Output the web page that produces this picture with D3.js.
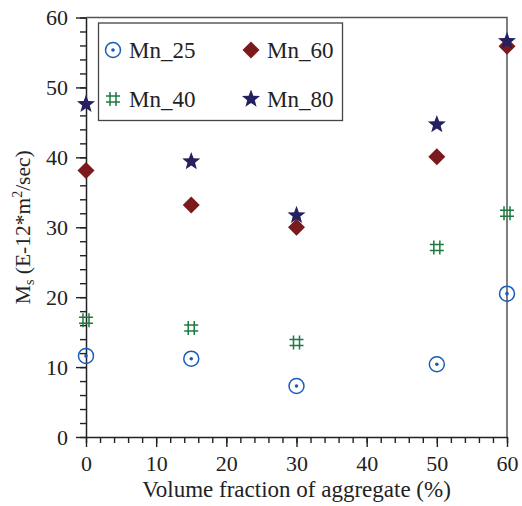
<!DOCTYPE html>
<html>
<head>
<meta charset="utf-8">
<script src="https://cdn.jsdelivr.net/npm/d3@7"></script>
<style>
  body { margin: 0; background: #fff; }
  text { font-family: "Liberation Serif", "Times New Roman", serif; fill: #222; }
</style>
</head>
<body>
<div id="chart"></div>
<script>
var xValues = [0, 15, 30, 50, 60];
var mn25 = [11.6, 11.2, 7.3, 10.4, 20.5];
var mn40 = [16.7, 15.6, 13.5, 27.1, 32.0];
var mn60 = [38.1, 33.2, 30.0, 40.1, 55.9];
var mn80 = [47.6, 39.4, 31.7, 44.7, 56.6];
var xTicks = [0, 10, 20, 30, 40, 50, 60];
var yTicks = [0, 10, 20, 30, 40, 50, 60];

var series = [
  { name: "Mn_25", values: mn25, type: "circle", color: "#1a5cb8" },
  { name: "Mn_40", values: mn40, type: "hash", color: "#1b7a3c" },
  { name: "Mn_60", values: mn60, type: "diamond", color: "#7a1a1c" },
  { name: "Mn_80", values: mn80, type: "star", color: "#25205f" }
];

var width = 522, height = 506;
var margin = { top: 17.5, right: 15, bottom: 69, left: 86 };
var graphWidth = width - margin.left - margin.right;
var graphHeight = height - margin.top - margin.bottom;

var svg = d3.select("#chart").append("svg")
  .attr("width", width)
  .attr("height", height);

var g = svg.append("g")
  .attr("transform", "translate(" + margin.left + "," + margin.top + ")");

var x = d3.scaleLinear().domain([0, 60]).range([0, graphWidth]);
var y = d3.scaleLinear().domain([0, 60]).range([graphHeight, 0]);

// frame (top + right)
g.append("path")
  .attr("d", "M0,0H" + graphWidth + "V" + graphHeight)
  .attr("fill", "none")
  .attr("stroke", "#555")
  .attr("stroke-width", 1.5);

// minor ticks
g.append("g")
  .attr("transform", "translate(0," + graphHeight + ")")
  .call(d3.axisBottom(x).tickValues(d3.range(0, 61, 2)).tickSize(6).tickFormat(""))
  .call(a => a.select(".domain").remove());
g.append("g")
  .call(d3.axisLeft(y).tickValues(d3.range(0, 61, 2)).tickSize(6).tickFormat(""))
  .call(a => a.select(".domain").remove());

// major axes
g.append("g")
  .attr("transform", "translate(0," + graphHeight + ")")
  .call(d3.axisBottom(x).tickValues(xTicks).tickSize(10).tickSizeOuter(0).tickPadding(8));
g.append("g")
  .call(d3.axisLeft(y).tickValues(yTicks).tickSize(10).tickSizeOuter(0).tickPadding(8));

g.selectAll(".tick line").attr("stroke", "#222").attr("stroke-width", 1.4);
g.selectAll(".domain").attr("stroke", "#222").attr("stroke-width", 1.5);
g.selectAll(".tick text")
  .style("font-family", "'Liberation Serif', serif")
  .style("font-size", "22px")
  .attr("fill", "#222");

// axis labels
svg.append("text")
  .attr("x", margin.left + graphWidth / 2)
  .attr("y", 497)
  .attr("text-anchor", "middle")
  .style("font-size", "23px")
  .text("Volume fraction of aggregate (%)");

var yl = svg.append("text")
  .attr("transform", "translate(30," + (margin.top + graphHeight / 2) + ") rotate(-90)")
  .attr("text-anchor", "middle")
  .style("font-size", "21.5px");
yl.append("tspan").text("M");
yl.append("tspan").attr("dy", 4).style("font-size", "14px").text("s");
yl.append("tspan").attr("dy", -4).text(" (E-12*m");
yl.append("tspan").attr("dy", -8).style("font-size", "14px").text("2");
yl.append("tspan").attr("dy", 8).text("/sec)");

// symbols
function drawSymbol(sel, type, color) {
  if (type === "circle") {
    sel.append("circle").attr("r", 7.5).attr("fill", "none").attr("stroke", color).attr("stroke-width", 1.5);
    sel.append("circle").attr("r", 1.8).attr("fill", color);
  } else if (type === "hash") {
    var s = 7, o = 3;
    sel.append("path")
      .attr("d", "M" + (-o) + "," + (-s) + "V" + s + "M" + o + "," + (-s) + "V" + s +
                 "M" + (-s) + "," + (-o) + "H" + s + "M" + (-s) + "," + o + "H" + s)
      .attr("stroke", color).attr("stroke-width", 1.5).attr("fill", "none");
  } else if (type === "diamond") {
    sel.append("path").attr("d", "M0,-8.5L8.5,0L0,8.5L-8.5,0Z").attr("fill", color);
  } else if (type === "star") {
    var pts = [];
    for (var i = 0; i < 10; i++) {
      var r = i % 2 === 0 ? 9.5 : 4;
      var a = Math.PI / 5 * i - Math.PI / 2;
      pts.push([r * Math.cos(a), r * Math.sin(a)]);
    }
    sel.append("path").attr("d", "M" + pts.join("L") + "Z").attr("fill", color);
  }
}

series.forEach(function(s) {
  g.selectAll(".pt-" + s.type)
    .data(s.values)
    .enter()
    .append("g")
    .attr("class", "pt-" + s.type)
    .attr("transform", (d, i) => "translate(" + x(xValues[i]) + "," + y(d) + ")")
    .each(function() { drawSymbol(d3.select(this), s.type, s.color); });
});

// legend
var legend = svg.append("g");
legend.append("rect")
  .attr("x", 98.5).attr("y", 23)
  .attr("width", 244).attr("height", 97.5)
  .attr("fill", "#fff").attr("stroke", "#444").attr("stroke-width", 1.3);

var legendPos = [[113, 50], [113, 99], [251, 50], [251, 99]];
series.forEach(function(s, i) {
  var lg = legend.append("g").attr("transform", "translate(" + legendPos[i] + ")");
  drawSymbol(lg, s.type, s.color);
  lg.append("text")
    .attr("x", 16).attr("y", 8)
    .style("font-size", "23px")
    .text(s.name);
});
</script>
</body>
</html>
